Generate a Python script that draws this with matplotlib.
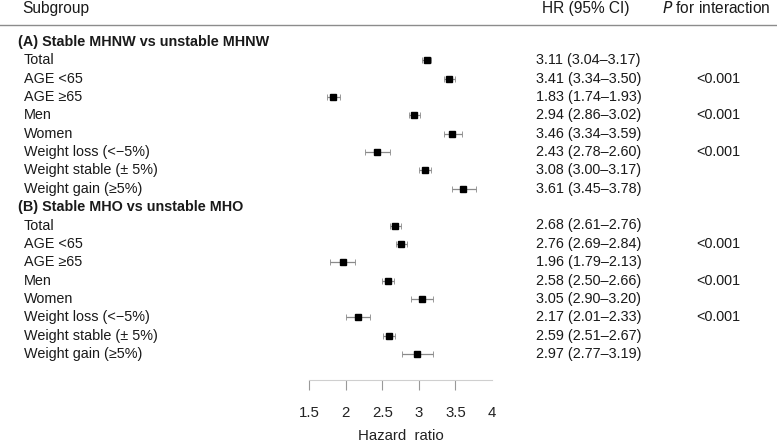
import matplotlib
matplotlib.use("Agg")
import matplotlib.pyplot as plt
from matplotlib import transforms

plt.rcParams['font.family'] = ['Liberation Sans', 'DejaVu Sans']

# rows of the forest plot, top to bottom
sections = ["(A) Stable MHNW vs unstable MHNW", "(B) Stable MHO vs unstable MHO"]
subgroups = ["Total", "AGE <65", "AGE \u226565", "Men", "Women",
             "Weight loss (<\u22125%)", "Weight stable (\u00b1 5%)", "Weight gain (\u22655%)"]

hr_a = [3.11, 3.41, 1.83, 2.94, 3.46, 2.43, 3.08, 3.61]
lo_a = [3.04, 3.34, 1.74, 2.86, 3.34, 2.27, 3.00, 3.45]
hi_a = [3.17, 3.50, 1.93, 3.02, 3.59, 2.60, 3.17, 3.78]
ci_text_a = ["3.11 (3.04\u20133.17)", "3.41 (3.34\u20133.50)", "1.83 (1.74\u20131.93)",
             "2.94 (2.86\u20133.02)", "3.46 (3.34\u20133.59)", "2.43 (2.78\u20132.60)",
             "3.08 (3.00\u20133.17)", "3.61 (3.45\u20133.78)"]

hr_b = [2.68, 2.76, 1.96, 2.58, 3.05, 2.17, 2.59, 2.97]
lo_b = [2.61, 2.69, 1.79, 2.50, 2.90, 2.01, 2.51, 2.77]
hi_b = [2.76, 2.84, 2.13, 2.66, 3.20, 2.33, 2.67, 3.19]
ci_text_b = ["2.68 (2.61\u20132.76)", "2.76 (2.69\u20132.84)", "1.96 (1.79\u20132.13)",
             "2.58 (2.50\u20132.66)", "3.05 (2.90\u20133.20)", "2.17 (2.01\u20132.33)",
             "2.59 (2.51\u20132.67)", "2.97 (2.77\u20133.19)"]

p_inter = ["", "<0.001", "", "<0.001", "", "<0.001", "", ""]

xticks = [1.5, 2, 2.5, 3, 3.5, 4]

W, H = 777, 443
fig = plt.figure(figsize=(W / 100, H / 100), dpi=100)

# axis area in pixels: x 309..492, y 0..380 (from top)
ax = fig.add_axes([309 / W, 1 - 380 / H, (492 - 309) / W, 380 / H])
row_h = 18.35
first_row = 42.0
ax.set_xlim(1.5, 4)
ax.set_ylim((380 - first_row) / row_h, -first_row / row_h)

fs = 10.4
hfs = 11.2
tc = "#1a1a1a"

for s in ["top", "right", "left"]:
    ax.spines[s].set_visible(False)
ax.spines["bottom"].set_color("#cfcfcf")
ax.spines["bottom"].set_linewidth(0.8)
ax.set_yticks([])
ax.set_xticks(xticks)
ax.set_xticklabels([("%g" % t) for t in xticks])
ax.tick_params(axis="x", length=7, pad=11.5, color="#999999", width=0.8,
               labelsize=10.8, labelcolor="#222222")
ax.xaxis.get_major_ticks()[-1].tick1line.set_visible(False)
ax.set_xlabel("Hazard  ratio", fontsize=10.8, color="#222222", labelpad=6.5)

trans = transforms.blended_transform_factory(fig.transFigure, ax.transData)

row = 0
for sec, hr, lo, hi, ci_txt in [(sections[0], hr_a, lo_a, hi_a, ci_text_a),
                                (sections[1], hr_b, lo_b, hi_b, ci_text_b)]:
    fig.text(18 / W, row, sec, transform=trans, fontsize=fs, fontweight="bold",
             color=tc, va="center")
    row += 1
    for i, name in enumerate(subgroups):
        y = row + i
        fig.text(24 / W, y, name, transform=trans, fontsize=fs, color=tc, va="center")
        fig.text(536 / W, y, ci_txt[i], transform=trans, fontsize=fs, color=tc, va="center")
        if p_inter[i]:
            fig.text(696 / W, y, p_inter[i], transform=trans, fontsize=fs, color=tc, va="center")
        ax.errorbar(hr[i], y, xerr=[[hr[i] - lo[i]], [hi[i] - hr[i]]], fmt="none",
                    ecolor="#8a8a8a", elinewidth=0.9, capsize=2.5, capthick=0.6)
        ax.plot(hr[i], y, marker="s", markersize=5, color="black", linestyle="none")
    row += len(subgroups)

# header
fig.text(22 / W, 1 - 8 / H, "Subgroup", fontsize=hfs, color=tc, va="center")
fig.text(542 / W, 1 - 8 / H, "HR (95% CI)", fontsize=hfs, color=tc, va="center")
fig.text(662 / W, 1 - 8 / H, "$\\mathit{P}$ for interaction", fontsize=hfs, color=tc, va="center")
fig.add_artist(plt.Line2D([0, 1], [1 - 24.5 / H, 1 - 24.5 / H], transform=fig.transFigure,
                          color="#8c8c8c", linewidth=1.0))

fig.savefig("out.png", dpi=100)
